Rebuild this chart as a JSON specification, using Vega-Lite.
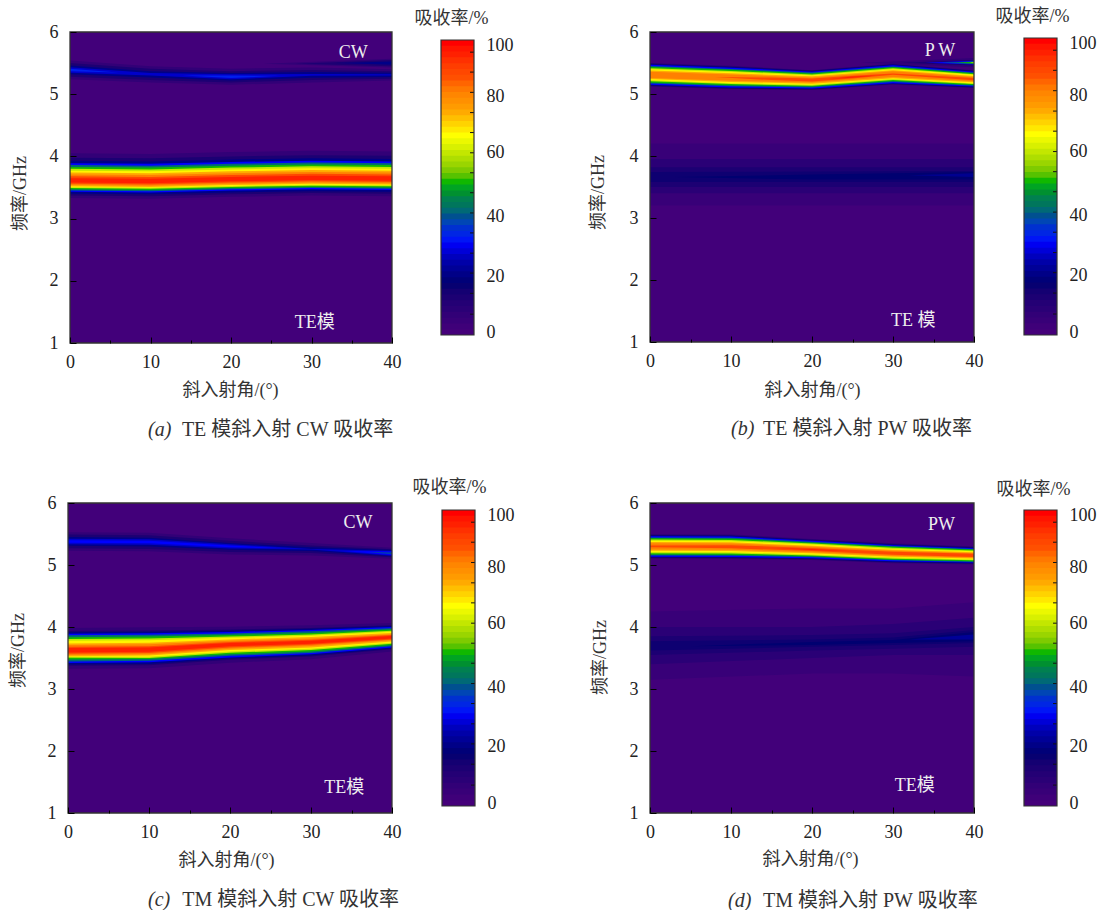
{"$schema":"https://vega.github.io/schema/vega-lite/v6.json","padding":{"left":9,"top":7,"right":0,"bottom":0},"background":"white","config":{"view":{"stroke":null},"axis":{"grid":false,"domain":false,"ticks":true,"tickWidth":1,"labelFlush":false,"labelFont":"Liberation Serif","titleFont":"Liberation Serif, Noto Sans CJK SC","labelFontSize":18,"titleFontSize":18,"labelColor":"#222","titleColor":"#333","titleFontWeight":"normal","tickColor":"#000","labelFontWeight":"normal"}},"columns":4,"spacing":{"column":0,"row":160},"bounds":"flush","datasets":{
"bar":[{"v":0,"lo":-1,"hi":1.6},{"v":2,"lo":1,"hi":3.6},{"v":4,"lo":3,"hi":5.6},{"v":6,"lo":5,"hi":7.6},{"v":8,"lo":7,"hi":9.6},{"v":10,"lo":9,"hi":11.6},{"v":12,"lo":11,"hi":13.6},{"v":14,"lo":13,"hi":15.6},{"v":16,"lo":15,"hi":17.6},{"v":18,"lo":17,"hi":19.6},{"v":20,"lo":19,"hi":21.6},{"v":22,"lo":21,"hi":23.6},{"v":24,"lo":23,"hi":25.6},{"v":26,"lo":25,"hi":27.6},{"v":28,"lo":27,"hi":29.6},{"v":30,"lo":29,"hi":31.6},{"v":32,"lo":31,"hi":33.6},{"v":34,"lo":33,"hi":35.6},{"v":36,"lo":35,"hi":37.6},{"v":38,"lo":37,"hi":39.6},{"v":40,"lo":39,"hi":41.6},{"v":42,"lo":41,"hi":43.6},{"v":44,"lo":43,"hi":45.6},{"v":46,"lo":45,"hi":47.6},{"v":48,"lo":47,"hi":49.6},{"v":50,"lo":49,"hi":51.6},{"v":52,"lo":51,"hi":53.6},{"v":54,"lo":53,"hi":55.6},{"v":56,"lo":55,"hi":57.6},{"v":58,"lo":57,"hi":59.6},{"v":60,"lo":59,"hi":61.6},{"v":62,"lo":61,"hi":63.6},{"v":64,"lo":63,"hi":65.6},{"v":66,"lo":65,"hi":67.6},{"v":68,"lo":67,"hi":69.6},{"v":70,"lo":69,"hi":71.6},{"v":72,"lo":71,"hi":73.6},{"v":74,"lo":73,"hi":75.6},{"v":76,"lo":75,"hi":77.6},{"v":78,"lo":77,"hi":79.6},{"v":80,"lo":79,"hi":81.6},{"v":82,"lo":81,"hi":83.6},{"v":84,"lo":83,"hi":85.6},{"v":86,"lo":85,"hi":87.6},{"v":88,"lo":87,"hi":89.6},{"v":90,"lo":89,"hi":91.6},{"v":92,"lo":91,"hi":93.6},{"v":94,"lo":93,"hi":95.6},{"v":96,"lo":95,"hi":97.6},{"v":98,"lo":97,"hi":99.6},{"v":100,"lo":99,"hi":101}],
"ticks":[{"t":6.2},{"t":13.4},{"t":20.4},{"t":27.3},{"t":34.3},{"t":41.2},{"t":48.2},{"t":55.1},{"t":62},{"t":69},{"t":75.9},{"t":82.9},{"t":89.9},{"t":96.8}],
"outline":[{"lo":-1,"hi":101}],
"frame":[{"a":0,"b":40,"lo":1,"hi":6}],
"A":[{"k":0,"l":1,"x":0,"lo":1,"hi":6},{"k":0,"l":1,"x":40,"lo":1,"hi":6},
{"k":1,"l":6,"x":0,"lo":3.33,"hi":4.05},{"k":1,"l":12,"x":0,"lo":3.37,"hi":3.98},{"k":1,"l":20,"x":0,"lo":3.4,"hi":3.93},{"k":1,"l":31,"x":0,"lo":3.43,"hi":3.89},{"k":1,"l":42,"x":0,"lo":3.45,"hi":3.86},{"k":1,"l":52,"x":0,"lo":3.47,"hi":3.83},{"k":1,"l":62,"x":0,"lo":3.49,"hi":3.8},{"k":1,"l":69,"x":0,"lo":3.505,"hi":3.77},{"k":1,"l":76,"x":0,"lo":3.52,"hi":3.74},{"k":1,"l":83,"x":0,"lo":3.54,"hi":3.71},{"k":1,"l":90,"x":0,"lo":3.56,"hi":3.68},{"k":1,"l":96,"x":0,"lo":3.58,"hi":3.65},
{"k":1,"l":6,"x":10,"lo":3.32,"hi":4.04},{"k":1,"l":12,"x":10,"lo":3.36,"hi":3.97},{"k":1,"l":20,"x":10,"lo":3.39,"hi":3.92},{"k":1,"l":31,"x":10,"lo":3.42,"hi":3.88},{"k":1,"l":42,"x":10,"lo":3.44,"hi":3.85},{"k":1,"l":52,"x":10,"lo":3.46,"hi":3.82},{"k":1,"l":62,"x":10,"lo":3.48,"hi":3.79},{"k":1,"l":69,"x":10,"lo":3.495,"hi":3.76},{"k":1,"l":76,"x":10,"lo":3.51,"hi":3.73},{"k":1,"l":83,"x":10,"lo":3.53,"hi":3.7},{"k":1,"l":90,"x":10,"lo":3.55,"hi":3.67},{"k":1,"l":96,"x":10,"lo":3.57,"hi":3.64},
{"k":1,"l":6,"x":20,"lo":3.35,"hi":4.07},{"k":1,"l":12,"x":20,"lo":3.39,"hi":4},{"k":1,"l":20,"x":20,"lo":3.42,"hi":3.95},{"k":1,"l":31,"x":20,"lo":3.45,"hi":3.91},{"k":1,"l":42,"x":20,"lo":3.47,"hi":3.88},{"k":1,"l":52,"x":20,"lo":3.49,"hi":3.85},{"k":1,"l":62,"x":20,"lo":3.51,"hi":3.82},{"k":1,"l":69,"x":20,"lo":3.525,"hi":3.79},{"k":1,"l":76,"x":20,"lo":3.54,"hi":3.76},{"k":1,"l":83,"x":20,"lo":3.56,"hi":3.73},{"k":1,"l":90,"x":20,"lo":3.58,"hi":3.7},{"k":1,"l":96,"x":20,"lo":3.6,"hi":3.67},
{"k":1,"l":6,"x":30,"lo":3.37,"hi":4.09},{"k":1,"l":12,"x":30,"lo":3.41,"hi":4.02},{"k":1,"l":20,"x":30,"lo":3.44,"hi":3.97},{"k":1,"l":31,"x":30,"lo":3.47,"hi":3.93},{"k":1,"l":42,"x":30,"lo":3.49,"hi":3.9},{"k":1,"l":52,"x":30,"lo":3.51,"hi":3.87},{"k":1,"l":62,"x":30,"lo":3.53,"hi":3.84},{"k":1,"l":69,"x":30,"lo":3.545,"hi":3.81},{"k":1,"l":76,"x":30,"lo":3.56,"hi":3.78},{"k":1,"l":83,"x":30,"lo":3.58,"hi":3.75},{"k":1,"l":90,"x":30,"lo":3.6,"hi":3.72},{"k":1,"l":96,"x":30,"lo":3.62,"hi":3.69},
{"k":1,"l":6,"x":40,"lo":3.36,"hi":4.08},{"k":1,"l":12,"x":40,"lo":3.4,"hi":4.01},{"k":1,"l":20,"x":40,"lo":3.43,"hi":3.96},{"k":1,"l":31,"x":40,"lo":3.46,"hi":3.92},{"k":1,"l":42,"x":40,"lo":3.48,"hi":3.89},{"k":1,"l":52,"x":40,"lo":3.5,"hi":3.86},{"k":1,"l":62,"x":40,"lo":3.52,"hi":3.83},{"k":1,"l":69,"x":40,"lo":3.535,"hi":3.8},{"k":1,"l":76,"x":40,"lo":3.55,"hi":3.77},{"k":1,"l":83,"x":40,"lo":3.57,"hi":3.74},{"k":1,"l":90,"x":40,"lo":3.59,"hi":3.71},{"k":1,"l":96,"x":40,"lo":3.61,"hi":3.68},
{"k":2,"l":6,"x":0,"lo":5.24,"hi":5.54},{"k":2,"l":12,"x":0,"lo":5.28,"hi":5.5},{"k":2,"l":20,"x":0,"lo":5.32,"hi":5.46},{"k":2,"l":27,"x":0,"lo":5.345,"hi":5.435},{"k":2,"l":33,"x":0,"lo":5.37,"hi":5.41},
{"k":2,"l":6,"x":10,"lo":5.19,"hi":5.45},{"k":2,"l":12,"x":10,"lo":5.23,"hi":5.41},{"k":2,"l":20,"x":10,"lo":5.27,"hi":5.37},{"k":2,"l":27,"x":10,"lo":5.3,"hi":5.34},
{"k":2,"l":6,"x":20,"lo":5.15,"hi":5.41},{"k":2,"l":12,"x":20,"lo":5.19,"hi":5.37},{"k":2,"l":20,"x":20,"lo":5.22,"hi":5.34},{"k":2,"l":27,"x":20,"lo":5.24,"hi":5.32},
{"k":2,"l":6,"x":30,"lo":5.19,"hi":5.43},{"k":2,"l":12,"x":30,"lo":5.23,"hi":5.39},{"k":2,"l":20,"x":30,"lo":5.265,"hi":5.355},{"k":2,"l":27,"x":30,"lo":5.295,"hi":5.325},
{"k":2,"l":6,"x":40,"lo":5.22,"hi":5.4},{"k":2,"l":12,"x":40,"lo":5.25,"hi":5.37},{"k":2,"l":20,"x":40,"lo":5.275,"hi":5.345},{"k":2,"l":27,"x":40,"lo":5.3,"hi":5.32},
{"k":2,"l":33,"x":6,"lo":5.35,"hi":5.35},{"k":2,"l":33,"x":14,"lo":5.3,"hi":5.3},{"k":2,"l":33,"x":20,"lo":5.26,"hi":5.3},{"k":2,"l":33,"x":26,"lo":5.295,"hi":5.295},
{"k":3,"l":6,"x":24,"lo":5.49,"hi":5.49},{"k":3,"l":6,"x":40,"lo":5.43,"hi":5.57},{"k":3,"l":12,"x":28,"lo":5.49,"hi":5.49},{"k":3,"l":12,"x":40,"lo":5.45,"hi":5.55},{"k":3,"l":20,"x":33,"lo":5.5,"hi":5.5},{"k":3,"l":20,"x":40,"lo":5.475,"hi":5.525}],
"B":[{"k":0,"l":1,"x":0,"lo":1,"hi":6},{"k":0,"l":1,"x":40,"lo":1,"hi":6},
{"k":4,"l":4,"x":0,"lo":3.2,"hi":4.2},{"k":4,"l":4,"x":40,"lo":3.2,"hi":4.2},{"k":4,"l":8,"x":0,"lo":3.4,"hi":3.95},{"k":4,"l":8,"x":40,"lo":3.4,"hi":3.95},{"k":4,"l":12,"x":0,"lo":3.5,"hi":3.82},{"k":4,"l":12,"x":40,"lo":3.5,"hi":3.82},{"k":4,"l":15,"x":0,"lo":3.58,"hi":3.74},{"k":4,"l":15,"x":40,"lo":3.58,"hi":3.76},{"k":4,"l":17,"x":3,"lo":3.66,"hi":3.66},{"k":4,"l":17,"x":20,"lo":3.62,"hi":3.7},{"k":4,"l":17,"x":40,"lo":3.62,"hi":3.74},{"k":4,"l":21,"x":32,"lo":3.69,"hi":3.69},{"k":4,"l":21,"x":40,"lo":3.66,"hi":3.72},
{"k":1,"l":6,"x":0,"lo":5.12,"hi":5.5},{"k":1,"l":12,"x":0,"lo":5.13,"hi":5.49},{"k":1,"l":20,"x":0,"lo":5.14,"hi":5.48},{"k":1,"l":31,"x":0,"lo":5.15,"hi":5.47},{"k":1,"l":42,"x":0,"lo":5.17,"hi":5.45},{"k":1,"l":52,"x":0,"lo":5.185,"hi":5.435},{"k":1,"l":62,"x":0,"lo":5.205,"hi":5.415},{"k":1,"l":69,"x":0,"lo":5.22,"hi":5.4},{"k":1,"l":76,"x":0,"lo":5.24,"hi":5.38},{"k":1,"l":83,"x":0,"lo":5.26,"hi":5.36},
{"k":1,"l":6,"x":10,"lo":5.075,"hi":5.455},{"k":1,"l":12,"x":10,"lo":5.085,"hi":5.445},{"k":1,"l":20,"x":10,"lo":5.095,"hi":5.435},{"k":1,"l":31,"x":10,"lo":5.105,"hi":5.425},{"k":1,"l":42,"x":10,"lo":5.125,"hi":5.405},{"k":1,"l":52,"x":10,"lo":5.14,"hi":5.39},{"k":1,"l":62,"x":10,"lo":5.16,"hi":5.37},{"k":1,"l":69,"x":10,"lo":5.175,"hi":5.355},{"k":1,"l":76,"x":10,"lo":5.195,"hi":5.335},{"k":1,"l":83,"x":10,"lo":5.215,"hi":5.315},
{"k":1,"l":6,"x":20,"lo":5.065,"hi":5.385},{"k":1,"l":12,"x":20,"lo":5.07,"hi":5.38},{"k":1,"l":20,"x":20,"lo":5.08,"hi":5.37},{"k":1,"l":31,"x":20,"lo":5.09,"hi":5.36},{"k":1,"l":42,"x":20,"lo":5.105,"hi":5.345},{"k":1,"l":52,"x":20,"lo":5.12,"hi":5.33},{"k":1,"l":62,"x":20,"lo":5.135,"hi":5.315},{"k":1,"l":69,"x":20,"lo":5.15,"hi":5.3},{"k":1,"l":76,"x":20,"lo":5.165,"hi":5.285},{"k":1,"l":83,"x":20,"lo":5.185,"hi":5.265},
{"k":1,"l":6,"x":30,"lo":5.15,"hi":5.49},{"k":1,"l":12,"x":30,"lo":5.16,"hi":5.48},{"k":1,"l":20,"x":30,"lo":5.165,"hi":5.475},{"k":1,"l":31,"x":30,"lo":5.175,"hi":5.465},{"k":1,"l":42,"x":30,"lo":5.195,"hi":5.445},{"k":1,"l":52,"x":30,"lo":5.21,"hi":5.43},{"k":1,"l":62,"x":30,"lo":5.225,"hi":5.415},{"k":1,"l":69,"x":30,"lo":5.24,"hi":5.4},{"k":1,"l":76,"x":30,"lo":5.255,"hi":5.385},{"k":1,"l":83,"x":30,"lo":5.275,"hi":5.365},
{"k":1,"l":6,"x":40,"lo":5.095,"hi":5.385},{"k":1,"l":12,"x":40,"lo":5.105,"hi":5.375},{"k":1,"l":20,"x":40,"lo":5.11,"hi":5.37},{"k":1,"l":31,"x":40,"lo":5.12,"hi":5.36},{"k":1,"l":42,"x":40,"lo":5.135,"hi":5.345},{"k":1,"l":52,"x":40,"lo":5.145,"hi":5.335},{"k":1,"l":62,"x":40,"lo":5.16,"hi":5.32},{"k":1,"l":69,"x":40,"lo":5.17,"hi":5.31},{"k":1,"l":76,"x":40,"lo":5.19,"hi":5.29},{"k":1,"l":83,"x":40,"lo":5.205,"hi":5.275},
{"k":1,"l":90,"x":8,"lo":5.275,"hi":5.275},{"k":1,"l":90,"x":15,"lo":5.225,"hi":5.265},{"k":1,"l":90,"x":20,"lo":5.2,"hi":5.25},{"k":1,"l":90,"x":25,"lo":5.25,"hi":5.295},{"k":1,"l":90,"x":30,"lo":5.31,"hi":5.33},{"k":1,"l":90,"x":40,"lo":5.22,"hi":5.26},
{"k":1,"l":96,"x":22,"lo":5.24,"hi":5.24},{"k":1,"l":96,"x":25,"lo":5.262,"hi":5.282},{"k":1,"l":96,"x":28,"lo":5.3,"hi":5.3},
{"k":3,"l":6,"x":26,"lo":5.505,"hi":5.505},{"k":3,"l":6,"x":40,"lo":5.43,"hi":5.58},{"k":3,"l":12,"x":31,"lo":5.505,"hi":5.505},{"k":3,"l":12,"x":40,"lo":5.46,"hi":5.55},{"k":3,"l":31,"x":34,"lo":5.505,"hi":5.505},{"k":3,"l":31,"x":40,"lo":5.475,"hi":5.535},{"k":3,"l":42,"x":36,"lo":5.505,"hi":5.505},{"k":3,"l":42,"x":40,"lo":5.485,"hi":5.525},{"k":3,"l":52,"x":38,"lo":5.505,"hi":5.505},{"k":3,"l":52,"x":40,"lo":5.49,"hi":5.52},{"k":3,"l":62,"x":39.5,"lo":5.505,"hi":5.505},{"k":3,"l":62,"x":40,"lo":5.497,"hi":5.513}],
"C":[{"k":0,"l":1,"x":0,"lo":1,"hi":6},{"k":0,"l":1,"x":40,"lo":1,"hi":6},
{"k":1,"l":6,"x":0,"lo":3.325,"hi":3.985},{"k":1,"l":12,"x":0,"lo":3.375,"hi":3.935},{"k":1,"l":20,"x":0,"lo":3.395,"hi":3.915},{"k":1,"l":31,"x":0,"lo":3.42,"hi":3.89},{"k":1,"l":42,"x":0,"lo":3.445,"hi":3.865},{"k":1,"l":52,"x":0,"lo":3.475,"hi":3.835},{"k":1,"l":62,"x":0,"lo":3.505,"hi":3.805},{"k":1,"l":69,"x":0,"lo":3.52,"hi":3.78},{"k":1,"l":76,"x":0,"lo":3.53,"hi":3.735},{"k":1,"l":83,"x":0,"lo":3.55,"hi":3.71},{"k":1,"l":90,"x":0,"lo":3.57,"hi":3.68},{"k":1,"l":96,"x":0,"lo":3.59,"hi":3.66},
{"k":1,"l":6,"x":10,"lo":3.335,"hi":3.995},{"k":1,"l":12,"x":10,"lo":3.385,"hi":3.945},{"k":1,"l":20,"x":10,"lo":3.405,"hi":3.925},{"k":1,"l":31,"x":10,"lo":3.43,"hi":3.9},{"k":1,"l":42,"x":10,"lo":3.455,"hi":3.875},{"k":1,"l":52,"x":10,"lo":3.485,"hi":3.845},{"k":1,"l":62,"x":10,"lo":3.5,"hi":3.815},{"k":1,"l":69,"x":10,"lo":3.52,"hi":3.785},{"k":1,"l":76,"x":10,"lo":3.54,"hi":3.745},{"k":1,"l":83,"x":10,"lo":3.56,"hi":3.72},{"k":1,"l":90,"x":10,"lo":3.58,"hi":3.69},{"k":1,"l":96,"x":10,"lo":3.6,"hi":3.67},
{"k":1,"l":6,"x":20,"lo":3.425,"hi":4.005},{"k":1,"l":12,"x":20,"lo":3.47,"hi":3.96},{"k":1,"l":20,"x":20,"lo":3.49,"hi":3.94},{"k":1,"l":31,"x":20,"lo":3.51,"hi":3.92},{"k":1,"l":42,"x":20,"lo":3.535,"hi":3.895},{"k":1,"l":52,"x":20,"lo":3.56,"hi":3.87},{"k":1,"l":62,"x":20,"lo":3.585,"hi":3.845},{"k":1,"l":69,"x":20,"lo":3.605,"hi":3.825},{"k":1,"l":76,"x":20,"lo":3.63,"hi":3.8},{"k":1,"l":83,"x":20,"lo":3.65,"hi":3.78},{"k":1,"l":90,"x":20,"lo":3.67,"hi":3.76},{"k":1,"l":96,"x":20,"lo":3.69,"hi":3.74},
{"k":1,"l":6,"x":30,"lo":3.48,"hi":4.03},{"k":1,"l":12,"x":30,"lo":3.525,"hi":3.985},{"k":1,"l":20,"x":30,"lo":3.54,"hi":3.97},{"k":1,"l":31,"x":30,"lo":3.56,"hi":3.95},{"k":1,"l":42,"x":30,"lo":3.58,"hi":3.93},{"k":1,"l":52,"x":30,"lo":3.605,"hi":3.905},{"k":1,"l":62,"x":30,"lo":3.63,"hi":3.88},{"k":1,"l":69,"x":30,"lo":3.65,"hi":3.86},{"k":1,"l":76,"x":30,"lo":3.67,"hi":3.84},{"k":1,"l":83,"x":30,"lo":3.695,"hi":3.815},{"k":1,"l":90,"x":30,"lo":3.715,"hi":3.795},{"k":1,"l":96,"x":30,"lo":3.73,"hi":3.78},
{"k":1,"l":6,"x":40,"lo":3.605,"hi":4.065},{"k":1,"l":12,"x":40,"lo":3.64,"hi":4.03},{"k":1,"l":20,"x":40,"lo":3.655,"hi":4.015},{"k":1,"l":31,"x":40,"lo":3.67,"hi":4},{"k":1,"l":42,"x":40,"lo":3.69,"hi":3.98},{"k":1,"l":52,"x":40,"lo":3.71,"hi":3.96},{"k":1,"l":62,"x":40,"lo":3.73,"hi":3.94},{"k":1,"l":69,"x":40,"lo":3.745,"hi":3.925},{"k":1,"l":76,"x":40,"lo":3.765,"hi":3.905},{"k":1,"l":83,"x":40,"lo":3.785,"hi":3.885},{"k":1,"l":90,"x":40,"lo":3.8,"hi":3.87},{"k":1,"l":96,"x":40,"lo":3.815,"hi":3.855},
{"k":2,"l":6,"x":0,"lo":5.23,"hi":5.53},{"k":2,"l":12,"x":0,"lo":5.27,"hi":5.49},{"k":2,"l":20,"x":0,"lo":5.31,"hi":5.45},{"k":2,"l":27,"x":0,"lo":5.335,"hi":5.425},{"k":2,"l":31,"x":0,"lo":5.36,"hi":5.4},
{"k":2,"l":6,"x":10,"lo":5.22,"hi":5.52},{"k":2,"l":12,"x":10,"lo":5.26,"hi":5.48},{"k":2,"l":20,"x":10,"lo":5.3,"hi":5.44},{"k":2,"l":27,"x":10,"lo":5.325,"hi":5.415},{"k":2,"l":31,"x":10,"lo":5.35,"hi":5.39},
{"k":2,"l":6,"x":20,"lo":5.17,"hi":5.43},{"k":2,"l":12,"x":20,"lo":5.21,"hi":5.39},{"k":2,"l":20,"x":20,"lo":5.245,"hi":5.355},{"k":2,"l":27,"x":20,"lo":5.265,"hi":5.335},{"k":2,"l":31,"x":20,"lo":5.285,"hi":5.315},
{"k":2,"l":6,"x":30,"lo":5.155,"hi":5.355},{"k":2,"l":12,"x":30,"lo":5.195,"hi":5.315},{"k":2,"l":20,"x":30,"lo":5.225,"hi":5.285},{"k":2,"l":27,"x":30,"lo":5.25,"hi":5.26},{"k":2,"l":31,"x":26,"lo":5.275,"hi":5.275},
{"k":2,"l":6,"x":40,"lo":5.1,"hi":5.28},{"k":2,"l":12,"x":40,"lo":5.125,"hi":5.255},{"k":2,"l":20,"x":40,"lo":5.14,"hi":5.24},{"k":2,"l":27,"x":40,"lo":5.15,"hi":5.23},
{"k":2,"l":31,"x":34,"lo":5.225,"hi":5.225},{"k":2,"l":31,"x":40,"lo":5.16,"hi":5.22},{"k":2,"l":40,"x":37,"lo":5.205,"hi":5.205},{"k":2,"l":40,"x":40,"lo":5.178,"hi":5.202}],
"D":[{"k":0,"l":1,"x":0,"lo":1,"hi":6},{"k":0,"l":1,"x":40,"lo":1,"hi":6},
{"k":4,"l":4,"x":0,"lo":3.15,"hi":4.25},{"k":4,"l":8,"x":0,"lo":3.4,"hi":4},{"k":4,"l":12,"x":0,"lo":3.55,"hi":3.85},{"k":4,"l":15,"x":0,"lo":3.62,"hi":3.77},
{"k":4,"l":4,"x":20,"lo":3.25,"hi":4.3},{"k":4,"l":8,"x":20,"lo":3.5,"hi":4},{"k":4,"l":12,"x":20,"lo":3.62,"hi":3.87},{"k":4,"l":15,"x":20,"lo":3.68,"hi":3.8},
{"k":4,"l":4,"x":30,"lo":3.25,"hi":4.3},{"k":4,"l":8,"x":30,"lo":3.55,"hi":4.05},{"k":4,"l":12,"x":30,"lo":3.65,"hi":3.9},{"k":4,"l":15,"x":30,"lo":3.71,"hi":3.83},
{"k":4,"l":4,"x":40,"lo":3.2,"hi":4.4},{"k":4,"l":8,"x":40,"lo":3.55,"hi":4.15},{"k":4,"l":12,"x":40,"lo":3.68,"hi":4},{"k":4,"l":15,"x":40,"lo":3.74,"hi":3.95},
{"k":4,"l":17,"x":5,"lo":3.69,"hi":3.69},{"k":4,"l":17,"x":20,"lo":3.71,"hi":3.76},{"k":4,"l":17,"x":30,"lo":3.74,"hi":3.79},{"k":4,"l":17,"x":40,"lo":3.77,"hi":3.92},{"k":4,"l":22,"x":32,"lo":3.8,"hi":3.8},{"k":4,"l":22,"x":40,"lo":3.8,"hi":3.88},
{"k":1,"l":6,"x":0,"lo":5.1,"hi":5.5},{"k":1,"l":12,"x":0,"lo":5.115,"hi":5.485},{"k":1,"l":20,"x":0,"lo":5.125,"hi":5.475},{"k":1,"l":31,"x":0,"lo":5.135,"hi":5.465},{"k":1,"l":42,"x":0,"lo":5.155,"hi":5.445},{"k":1,"l":52,"x":0,"lo":5.17,"hi":5.43},{"k":1,"l":62,"x":0,"lo":5.19,"hi":5.41},{"k":1,"l":69,"x":0,"lo":5.21,"hi":5.39},{"k":1,"l":76,"x":0,"lo":5.23,"hi":5.37},{"k":1,"l":83,"x":0,"lo":5.25,"hi":5.35},{"k":1,"l":90,"x":0,"lo":5.285,"hi":5.315},
{"k":1,"l":6,"x":10,"lo":5.095,"hi":5.495},{"k":1,"l":12,"x":10,"lo":5.11,"hi":5.48},{"k":1,"l":20,"x":10,"lo":5.12,"hi":5.47},{"k":1,"l":31,"x":10,"lo":5.13,"hi":5.46},{"k":1,"l":42,"x":10,"lo":5.15,"hi":5.44},{"k":1,"l":52,"x":10,"lo":5.165,"hi":5.425},{"k":1,"l":62,"x":10,"lo":5.185,"hi":5.405},{"k":1,"l":69,"x":10,"lo":5.205,"hi":5.385},{"k":1,"l":76,"x":10,"lo":5.225,"hi":5.365},{"k":1,"l":83,"x":10,"lo":5.245,"hi":5.345},{"k":1,"l":90,"x":10,"lo":5.27,"hi":5.32},
{"k":1,"l":6,"x":20,"lo":5.08,"hi":5.42},{"k":1,"l":12,"x":20,"lo":5.09,"hi":5.41},{"k":1,"l":20,"x":20,"lo":5.1,"hi":5.4},{"k":1,"l":31,"x":20,"lo":5.11,"hi":5.39},{"k":1,"l":42,"x":20,"lo":5.125,"hi":5.375},{"k":1,"l":52,"x":20,"lo":5.14,"hi":5.36},{"k":1,"l":62,"x":20,"lo":5.155,"hi":5.345},{"k":1,"l":69,"x":20,"lo":5.17,"hi":5.33},{"k":1,"l":76,"x":20,"lo":5.19,"hi":5.31},{"k":1,"l":83,"x":20,"lo":5.205,"hi":5.295},{"k":1,"l":90,"x":20,"lo":5.225,"hi":5.275},
{"k":1,"l":6,"x":30,"lo":5.03,"hi":5.35},{"k":1,"l":12,"x":30,"lo":5.04,"hi":5.34},{"k":1,"l":20,"x":30,"lo":5.05,"hi":5.33},{"k":1,"l":31,"x":30,"lo":5.06,"hi":5.32},{"k":1,"l":42,"x":30,"lo":5.075,"hi":5.305},{"k":1,"l":52,"x":30,"lo":5.085,"hi":5.295},{"k":1,"l":62,"x":30,"lo":5.1,"hi":5.28},{"k":1,"l":69,"x":30,"lo":5.12,"hi":5.26},{"k":1,"l":76,"x":30,"lo":5.135,"hi":5.245},{"k":1,"l":83,"x":30,"lo":5.15,"hi":5.23},{"k":1,"l":90,"x":30,"lo":5.165,"hi":5.215},
{"k":1,"l":6,"x":40,"lo":5.01,"hi":5.3},{"k":1,"l":12,"x":40,"lo":5.02,"hi":5.29},{"k":1,"l":20,"x":40,"lo":5.03,"hi":5.28},{"k":1,"l":31,"x":40,"lo":5.04,"hi":5.27},{"k":1,"l":42,"x":40,"lo":5.05,"hi":5.26},{"k":1,"l":52,"x":40,"lo":5.06,"hi":5.25},{"k":1,"l":62,"x":40,"lo":5.075,"hi":5.235},{"k":1,"l":69,"x":40,"lo":5.09,"hi":5.22},{"k":1,"l":76,"x":40,"lo":5.105,"hi":5.205},{"k":1,"l":83,"x":40,"lo":5.12,"hi":5.19},{"k":1,"l":90,"x":40,"lo":5.13,"hi":5.18},
{"k":1,"l":96,"x":15,"lo":5.275,"hi":5.275},{"k":1,"l":96,"x":20,"lo":5.24,"hi":5.26},{"k":1,"l":96,"x":25,"lo":5.22,"hi":5.22}]
},
"concat":[
{"width":373,"height":311,"layer":[
{"data":{"name":"A"},"mark":{"type":"area","orient":"vertical"},"encoding":{"x":{"field":"x","type":"quantitative","scale":{"domain":[0,40],"range":[2,324],"nice":false},"axis":{"values":[0,5,10,15,20,25,30,35,40],"labelExpr":"datum.value%10==0?datum.label:''","tickSize":{"condition":{"test":"datum.value%10==0","value":-6},"value":-3},"labelPadding":16,"title":"斜入射角/(°)","titleX":162,"titleY":47,"titleBaseline":"middle","zindex":1}},"y":{"field":"lo","type":"quantitative","scale":{"domain":[1,6],"nice":false},"axis":{"offset":-2,"values":[1,1.5,2,2.5,3,3.5,4,4.5,5,5.5,6],"labelExpr":"datum.value%1==0?''+datum.value:''","tickSize":-6,"labelPadding":18,"title":"频率/GHz","titleX":-50,"titleY":161,"titleBaseline":"middle","zindex":1}},"y2":{"field":"hi"},"detail":{"field":"k"},"color":{"field":"l","type":"quantitative","legend":null,"scale":{"domain":[0,8,17,25,31,36,40,43,46,48,52,57,64,68,71,77,83,88,96,100],"range":["#45007a","#2a0076","#000070","#0000b0","#0000ff","#0030d0","#005090","#007060","#008050","#009030","#10b800","#90d000","#d8f000","#ffff00","#ffdd00","#ffa000","#ff8000","#ff5000","#ff2000","#ff0000"]}}}},
{"data":{"name":"frame"},"mark":{"type":"rect","fill":null,"stroke":"#333","strokeWidth":1.3},"encoding":{"x":{"field":"a","type":"quantitative"},"x2":{"field":"b"},"y":{"field":"lo","type":"quantitative"},"y2":{"field":"hi"}}},
{"data":{"values":[{"x":35.2,"f":5.66,"s":"CW"},{"x":30.4,"f":1.32,"s":"TE模"}]},"mark":{"type":"text","font":"Liberation Serif, Noto Sans CJK SC","fontSize":18,"color":"#eeeeee"},"encoding":{"x":{"field":"x","type":"quantitative"},"y":{"field":"f","type":"quantitative"},"text":{"field":"s"}}},
{"data":{"values":[{"x":13.9,"f":-0.4,"s":"TE 模斜入射 CW 吸收率"}]},"mark":{"type":"text","align":"left","font":"Liberation Serif, Noto Sans CJK SC","fontSize":20,"color":"#333"},"encoding":{"x":{"field":"x","type":"quantitative"},"y":{"field":"f","type":"quantitative"},"text":{"field":"s"}}},
{"data":{"values":[{"x":9.69,"f":-0.4,"s":"(a)"}]},"mark":{"type":"text","align":"left","font":"Liberation Serif","fontStyle":"italic","fontSize":20,"color":"#333"},"encoding":{"x":{"field":"x","type":"quantitative"},"y":{"field":"f","type":"quantitative"},"text":{"field":"s"}}}
]},
{"width":209,"height":311,"layer":[
{"data":{"name":"bar"},"mark":"rect","encoding":{"x":{"datum":0,"type":"quantitative","scale":{"domain":[0,1],"range":[0,33]},"axis":null},"x2":{"datum":1},"y":{"field":"lo","type":"quantitative","scale":{"domain":[-1,101],"range":[303,8],"nice":false},"axis":{"orient":"right","offset":-176,"values":[0,19.4,40,62,81.3,99],"labelExpr":"datum.value==0?'0':datum.value<30?'20':datum.value<50?'40':datum.value<70?'60':datum.value<90?'80':'100'","ticks":false,"labelPadding":12,"title":"吸收率/%","titleAngle":0,"titleAlign":"center","titleBaseline":"middle","titleX":-23,"titleY":-14}},"y2":{"field":"hi"},"color":{"field":"v","type":"quantitative","legend":null,"scale":{"domain":[0,8,17,25,31,36,40,43,46,48,52,57,64,68,71,77,83,88,96,100],"range":["#45007a","#2a0076","#000070","#0000b0","#0000ff","#0030d0","#005090","#007060","#008050","#009030","#10b800","#90d000","#d8f000","#ffff00","#ffdd00","#ffa000","#ff8000","#ff5000","#ff2000","#ff0000"]}}}},
{"data":{"name":"ticks"},"mark":{"type":"rule","color":"#111"},"encoding":{"x":{"datum":0.88,"type":"quantitative","axis":null},"x2":{"datum":1},"y":{"field":"t","type":"quantitative"}}},
{"data":{"name":"outline"},"mark":{"type":"rect","fill":null,"stroke":"#333","strokeWidth":1.2},"encoding":{"x":{"datum":0,"type":"quantitative","axis":null},"x2":{"datum":1},"y":{"field":"lo","type":"quantitative"},"y2":{"field":"hi"}}}
]},
{"width":374,"height":310,"layer":[
{"data":{"name":"B"},"mark":{"type":"area","orient":"vertical"},"encoding":{"x":{"field":"x","type":"quantitative","scale":{"domain":[0,40],"range":[0,324],"nice":false},"axis":{"values":[0,5,10,15,20,25,30,35,40],"labelExpr":"datum.value%10==0?datum.label:''","tickSize":{"condition":{"test":"datum.value%10==0","value":-6},"value":-3},"labelPadding":16,"title":"斜入射角/(°)","titleX":162,"titleY":48,"titleBaseline":"middle","zindex":1}},"y":{"field":"lo","type":"quantitative","scale":{"domain":[1,6],"nice":false},"axis":{"values":[1,1.5,2,2.5,3,3.5,4,4.5,5,5.5,6],"labelExpr":"datum.value%1==0?''+datum.value:''","tickSize":-6,"labelPadding":18,"title":"频率/GHz","titleX":-52,"titleY":160,"titleBaseline":"middle","zindex":1}},"y2":{"field":"hi"},"detail":{"field":"k"},"color":{"field":"l","type":"quantitative","legend":null,"scale":{"domain":[0,8,17,25,31,36,40,43,46,48,52,57,64,68,71,77,83,88,96,100],"range":["#45007a","#2a0076","#000070","#0000b0","#0000ff","#0030d0","#005090","#007060","#008050","#009030","#10b800","#90d000","#d8f000","#ffff00","#ffdd00","#ffa000","#ff8000","#ff5000","#ff2000","#ff0000"]}}}},
{"data":{"name":"frame"},"mark":{"type":"rect","fill":null,"stroke":"#333","strokeWidth":1.3},"encoding":{"x":{"field":"a","type":"quantitative"},"x2":{"field":"b"},"y":{"field":"lo","type":"quantitative"},"y2":{"field":"hi"}}},
{"data":{"values":[{"x":35.8,"f":5.69,"s":"P W"},{"x":32.5,"f":1.34,"s":"TE 模"}]},"mark":{"type":"text","font":"Liberation Serif, Noto Sans CJK SC","fontSize":18,"color":"#eeeeee"},"encoding":{"x":{"field":"x","type":"quantitative"},"y":{"field":"f","type":"quantitative"},"text":{"field":"s"}}},
{"data":{"values":[{"x":13.95,"f":-0.4,"s":"TE 模斜入射 PW 吸收率"}]},"mark":{"type":"text","align":"left","font":"Liberation Serif, Noto Sans CJK SC","fontSize":20,"color":"#333"},"encoding":{"x":{"field":"x","type":"quantitative"},"y":{"field":"f","type":"quantitative"},"text":{"field":"s"}}},
{"data":{"values":[{"x":10,"f":-0.4,"s":"(b)"}]},"mark":{"type":"text","align":"left","font":"Liberation Serif","fontStyle":"italic","fontSize":20,"color":"#333"},"encoding":{"x":{"field":"x","type":"quantitative"},"y":{"field":"f","type":"quantitative"},"text":{"field":"s"}}}
]},
{"width":76,"height":311,"layer":[
{"data":{"name":"bar"},"mark":"rect","encoding":{"x":{"datum":0,"type":"quantitative","scale":{"domain":[0,1],"range":[0,33]},"axis":null},"x2":{"datum":1},"y":{"field":"lo","type":"quantitative","scale":{"domain":[-1,101],"range":[303,6],"nice":false},"axis":{"orient":"right","offset":-43,"values":[0,19.4,40,62,81.3,99],"labelExpr":"datum.value==0?'0':datum.value<30?'20':datum.value<50?'40':datum.value<70?'60':datum.value<90?'80':'100'","ticks":false,"labelPadding":12,"title":"吸收率/%","titleAngle":0,"titleAlign":"center","titleBaseline":"middle","titleX":-25,"titleY":-16}},"y2":{"field":"hi"},"color":{"field":"v","type":"quantitative","legend":null,"scale":{"domain":[0,8,17,25,31,36,40,43,46,48,52,57,64,68,71,77,83,88,96,100],"range":["#45007a","#2a0076","#000070","#0000b0","#0000ff","#0030d0","#005090","#007060","#008050","#009030","#10b800","#90d000","#d8f000","#ffff00","#ffdd00","#ffa000","#ff8000","#ff5000","#ff2000","#ff0000"]}}}},
{"data":{"name":"ticks"},"mark":{"type":"rule","color":"#111"},"encoding":{"x":{"datum":0.88,"type":"quantitative","axis":null},"x2":{"datum":1},"y":{"field":"t","type":"quantitative"}}},
{"data":{"name":"outline"},"mark":{"type":"rect","fill":null,"stroke":"#333","strokeWidth":1.2},"encoding":{"x":{"datum":0,"type":"quantitative","axis":null},"x2":{"datum":1},"y":{"field":"lo","type":"quantitative"},"y2":{"field":"hi"}}}
]},
{"width":373,"height":310,"layer":[
{"data":{"name":"C"},"mark":{"type":"area","orient":"vertical"},"encoding":{"x":{"field":"x","type":"quantitative","scale":{"domain":[0,40],"range":[0,324],"nice":false},"axis":{"values":[0,5,10,15,20,25,30,35,40],"labelExpr":"datum.value%10==0?datum.label:''","tickSize":{"condition":{"test":"datum.value%10==0","value":-6},"value":-3},"labelPadding":16,"title":"斜入射角/(°)","titleX":158,"titleY":47,"titleBaseline":"middle","zindex":1}},"y":{"field":"lo","type":"quantitative","scale":{"domain":[1,6],"nice":false},"axis":{"values":[1,1.5,2,2.5,3,3.5,4,4.5,5,5.5,6],"labelExpr":"datum.value%1==0?''+datum.value:''","tickSize":-6,"labelPadding":18,"title":"频率/GHz","titleX":-50,"titleY":147,"titleBaseline":"middle","zindex":1}},"y2":{"field":"hi"},"detail":{"field":"k"},"color":{"field":"l","type":"quantitative","legend":null,"scale":{"domain":[0,8,17,25,31,36,40,43,46,48,52,57,64,68,71,77,83,88,96,100],"range":["#45007a","#2a0076","#000070","#0000b0","#0000ff","#0030d0","#005090","#007060","#008050","#009030","#10b800","#90d000","#d8f000","#ffff00","#ffdd00","#ffa000","#ff8000","#ff5000","#ff2000","#ff0000"]}}}},
{"data":{"name":"frame"},"mark":{"type":"rect","fill":null,"stroke":"#333","strokeWidth":1.3},"encoding":{"x":{"field":"a","type":"quantitative"},"x2":{"field":"b"},"y":{"field":"lo","type":"quantitative"},"y2":{"field":"hi"}}},
{"data":{"values":[{"x":35.8,"f":5.68,"s":"CW"},{"x":34.1,"f":1.4,"s":"TE模"}]},"mark":{"type":"text","font":"Liberation Serif, Noto Sans CJK SC","fontSize":18,"color":"#eeeeee"},"encoding":{"x":{"field":"x","type":"quantitative"},"y":{"field":"f","type":"quantitative"},"text":{"field":"s"}}},
{"data":{"values":[{"x":14.1,"f":-0.4,"s":"TM 模斜入射 CW 吸收率"}]},"mark":{"type":"text","align":"left","font":"Liberation Serif, Noto Sans CJK SC","fontSize":20,"color":"#333"},"encoding":{"x":{"field":"x","type":"quantitative"},"y":{"field":"f","type":"quantitative"},"text":{"field":"s"}}},
{"data":{"values":[{"x":9.88,"f":-0.4,"s":"(c)"}]},"mark":{"type":"text","align":"left","font":"Liberation Serif","fontStyle":"italic","fontSize":20,"color":"#333"},"encoding":{"x":{"field":"x","type":"quantitative"},"y":{"field":"f","type":"quantitative"},"text":{"field":"s"}}}
]},
{"width":209,"height":310,"layer":[
{"data":{"name":"bar"},"mark":"rect","encoding":{"x":{"datum":0,"type":"quantitative","scale":{"domain":[0,1],"range":[1,34]},"axis":null},"x2":{"datum":1},"y":{"field":"lo","type":"quantitative","scale":{"domain":[-1,101],"range":[303,7],"nice":false},"axis":{"orient":"right","offset":-175,"values":[0,19.4,40,62,81.3,99],"labelExpr":"datum.value==0?'0':datum.value<30?'20':datum.value<50?'40':datum.value<70?'60':datum.value<90?'80':'100'","ticks":false,"labelPadding":12,"title":"吸收率/%","titleAngle":0,"titleAlign":"center","titleBaseline":"middle","titleX":-26,"titleY":-16}},"y2":{"field":"hi"},"color":{"field":"v","type":"quantitative","legend":null,"scale":{"domain":[0,8,17,25,31,36,40,43,46,48,52,57,64,68,71,77,83,88,96,100],"range":["#45007a","#2a0076","#000070","#0000b0","#0000ff","#0030d0","#005090","#007060","#008050","#009030","#10b800","#90d000","#d8f000","#ffff00","#ffdd00","#ffa000","#ff8000","#ff5000","#ff2000","#ff0000"]}}}},
{"data":{"name":"ticks"},"mark":{"type":"rule","color":"#111"},"encoding":{"x":{"datum":0.88,"type":"quantitative","axis":null},"x2":{"datum":1},"y":{"field":"t","type":"quantitative"}}},
{"data":{"name":"outline"},"mark":{"type":"rect","fill":null,"stroke":"#333","strokeWidth":1.2},"encoding":{"x":{"datum":0,"type":"quantitative","axis":null},"x2":{"datum":1},"y":{"field":"lo","type":"quantitative"},"y2":{"field":"hi"}}}
]},
{"width":374,"height":310,"layer":[
{"data":{"name":"D"},"mark":{"type":"area","orient":"vertical"},"encoding":{"x":{"field":"x","type":"quantitative","scale":{"domain":[0,40],"range":[0,324],"nice":false},"axis":{"values":[0,5,10,15,20,25,30,35,40],"labelExpr":"datum.value%10==0?datum.label:''","tickSize":{"condition":{"test":"datum.value%10==0","value":-6},"value":-3},"labelPadding":16,"title":"斜入射角/(°)","titleX":160,"titleY":46,"titleBaseline":"middle","zindex":1}},"y":{"field":"lo","type":"quantitative","scale":{"domain":[1,6],"nice":false},"axis":{"values":[1,1.5,2,2.5,3,3.5,4,4.5,5,5.5,6],"labelExpr":"datum.value%1==0?''+datum.value:''","tickSize":-6,"labelPadding":18,"title":"频率/GHz","titleX":-50,"titleY":154,"titleBaseline":"middle","zindex":1}},"y2":{"field":"hi"},"detail":{"field":"k"},"color":{"field":"l","type":"quantitative","legend":null,"scale":{"domain":[0,8,17,25,31,36,40,43,46,48,52,57,64,68,71,77,83,88,96,100],"range":["#45007a","#2a0076","#000070","#0000b0","#0000ff","#0030d0","#005090","#007060","#008050","#009030","#10b800","#90d000","#d8f000","#ffff00","#ffdd00","#ffa000","#ff8000","#ff5000","#ff2000","#ff0000"]}}}},
{"data":{"name":"frame"},"mark":{"type":"rect","fill":null,"stroke":"#333","strokeWidth":1.3},"encoding":{"x":{"field":"a","type":"quantitative"},"x2":{"field":"b"},"y":{"field":"lo","type":"quantitative"},"y2":{"field":"hi"}}},
{"data":{"values":[{"x":36,"f":5.65,"s":"PW"},{"x":32.7,"f":1.44,"s":"TE模"}]},"mark":{"type":"text","font":"Liberation Serif, Noto Sans CJK SC","fontSize":18,"color":"#eeeeee"},"encoding":{"x":{"field":"x","type":"quantitative"},"y":{"field":"f","type":"quantitative"},"text":{"field":"s"}}},
{"data":{"values":[{"x":13.95,"f":-0.42,"s":"TM 模斜入射 PW 吸收率"}]},"mark":{"type":"text","align":"left","font":"Liberation Serif, Noto Sans CJK SC","fontSize":20,"color":"#333"},"encoding":{"x":{"field":"x","type":"quantitative"},"y":{"field":"f","type":"quantitative"},"text":{"field":"s"}}},
{"data":{"values":[{"x":9.63,"f":-0.42,"s":"(d)"}]},"mark":{"type":"text","align":"left","font":"Liberation Serif","fontStyle":"italic","fontSize":20,"color":"#333"},"encoding":{"x":{"field":"x","type":"quantitative"},"y":{"field":"f","type":"quantitative"},"text":{"field":"s"}}}
]},
{"width":76,"height":310,"layer":[
{"data":{"name":"bar"},"mark":"rect","encoding":{"x":{"datum":0,"type":"quantitative","scale":{"domain":[0,1],"range":[0,33]},"axis":null},"x2":{"datum":1},"y":{"field":"lo","type":"quantitative","scale":{"domain":[-1,101],"range":[303,7],"nice":false},"axis":{"orient":"right","offset":-43,"values":[0,19.4,40,62,81.3,99],"labelExpr":"datum.value==0?'0':datum.value<30?'20':datum.value<50?'40':datum.value<70?'60':datum.value<90?'80':'100'","ticks":false,"labelPadding":12,"title":"吸收率/%","titleAngle":0,"titleAlign":"center","titleBaseline":"middle","titleX":-24,"titleY":-14}},"y2":{"field":"hi"},"color":{"field":"v","type":"quantitative","legend":null,"scale":{"domain":[0,8,17,25,31,36,40,43,46,48,52,57,64,68,71,77,83,88,96,100],"range":["#45007a","#2a0076","#000070","#0000b0","#0000ff","#0030d0","#005090","#007060","#008050","#009030","#10b800","#90d000","#d8f000","#ffff00","#ffdd00","#ffa000","#ff8000","#ff5000","#ff2000","#ff0000"]}}}},
{"data":{"name":"ticks"},"mark":{"type":"rule","color":"#111"},"encoding":{"x":{"datum":0.88,"type":"quantitative","axis":null},"x2":{"datum":1},"y":{"field":"t","type":"quantitative"}}},
{"data":{"name":"outline"},"mark":{"type":"rect","fill":null,"stroke":"#333","strokeWidth":1.2},"encoding":{"x":{"datum":0,"type":"quantitative","axis":null},"x2":{"datum":1},"y":{"field":"lo","type":"quantitative"},"y2":{"field":"hi"}}}
]}
]}
